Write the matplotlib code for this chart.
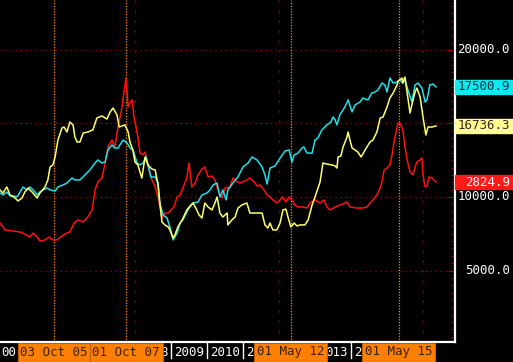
import matplotlib
matplotlib.use("Agg")
import matplotlib.pyplot as plt
from matplotlib.patches import Rectangle
from matplotlib.transforms import blended_transform_factory
from matplotlib.ticker import MultipleLocator

# ---------------- data (decimal year, value in chart units) ----------------
yellow_t = [2004.25, 2004.33, 2004.44, 2004.53, 2004.67, 2004.75, 2004.86, 2004.94, 2005.03, 2005.14,
            2005.28, 2005.36, 2005.50, 2005.58, 2005.64, 2005.72, 2005.78, 2005.86, 2005.97, 2006.03,
            2006.11, 2006.19, 2006.28, 2006.33, 2006.39, 2006.47, 2006.56, 2006.69, 2006.83, 2006.94,
            2007.08, 2007.17, 2007.22, 2007.31, 2007.39, 2007.50, 2007.56, 2007.64, 2007.72, 2007.81,
            2007.86, 2007.94, 2008.00, 2008.08, 2008.19, 2008.28, 2008.36, 2008.47, 2008.56, 2008.64,
            2008.69, 2008.75, 2008.83, 2008.92, 2008.97, 2009.06, 2009.11, 2009.19, 2009.31, 2009.44,
            2009.53, 2009.61, 2009.69, 2009.78, 2009.86, 2009.94, 2010.03, 2010.14, 2010.22, 2010.28,
            2010.36, 2010.44, 2010.56, 2010.58, 2010.69, 2010.78, 2010.86, 2010.97, 2011.11, 2011.19,
            2011.33, 2011.53, 2011.61, 2011.69, 2011.75, 2011.83, 2011.94, 2012.03, 2012.11, 2012.19,
            2012.25, 2012.33, 2012.42, 2012.50, 2012.58, 2012.72, 2012.81, 2012.92, 2013.00, 2013.14,
            2013.22, 2013.33, 2013.47, 2013.56, 2013.61, 2013.64, 2013.72, 2013.78, 2013.89, 2013.92,
            2013.97, 2014.03, 2014.11, 2014.19, 2014.28, 2014.36, 2014.44, 2014.53, 2014.61, 2014.72,
            2014.81, 2014.89, 2015.00, 2015.08, 2015.17, 2015.28, 2015.31, 2015.42, 2015.44, 2015.50,
            2015.56, 2015.64, 2015.69, 2015.78, 2015.83, 2015.92, 2016.00, 2016.08, 2016.14, 2016.25,
            2016.36]
yellow_v = [10480, 10270, 10680, 10140, 9930, 9730, 9930, 10340, 10610, 10340,
            9930, 10270, 10680, 11160, 12040, 12180, 12720, 13880, 14690, 14760,
            14420, 15100, 14900, 14080, 13740, 13740, 14350, 14420, 14560, 15370,
            15510, 15370, 15300, 15780, 16050, 15580, 14760, 14830, 14900, 14420,
            13740, 13200, 12380, 12180, 11290, 12720, 12180, 11900, 11840, 10820,
            9590, 8300, 8100, 7960, 7760, 7210, 7420, 7960, 8440, 9120,
            9390, 9590, 9250, 8780, 8570, 9590, 9320, 9120, 9590, 10000,
            8910, 8640, 8910, 8100, 8440, 8640, 9250, 9460, 9590, 8910,
            8910, 8910, 8100, 7890, 8230, 7760, 7760, 8230, 9120, 9180,
            8640, 7960, 8230, 8030, 8100, 8100, 8440, 9460, 10000, 11020,
            12310, 12240, 12180, 12110, 11970, 12720, 12790, 13400, 14080, 14420,
            13880, 13330, 13200, 13060, 12720, 13060, 13400, 13740, 13880, 14420,
            15370, 15440, 16120, 16730, 17070, 17620, 17890, 18090, 17750, 18160,
            17070, 15710, 16260, 17140, 17410, 16800, 15440, 14220, 14760, 14760,
            14830]

cyan_t = [2004.25, 2004.33, 2004.44, 2004.53, 2004.64, 2004.72, 2004.81, 2004.89, 2005.00, 2005.08,
          2005.17, 2005.28, 2005.36, 2005.44, 2005.56, 2005.64, 2005.78, 2005.86, 2006.00, 2006.11,
          2006.25, 2006.33, 2006.47, 2006.61, 2006.75, 2006.89, 2006.97, 2007.08, 2007.17, 2007.25,
          2007.36, 2007.44, 2007.53, 2007.58, 2007.67, 2007.78, 2007.86, 2007.94, 2008.06, 2008.14,
          2008.22, 2008.31, 2008.36, 2008.44, 2008.56, 2008.64, 2008.69, 2008.78, 2008.89, 2008.97,
          2009.06, 2009.17, 2009.25, 2009.33, 2009.47, 2009.61, 2009.75, 2009.86, 2010.00, 2010.08,
          2010.17, 2010.28, 2010.36, 2010.44, 2010.53, 2010.58, 2010.72, 2010.86, 2011.00, 2011.14,
          2011.25, 2011.39, 2011.53, 2011.61, 2011.67, 2011.75, 2011.89, 2012.03, 2012.17, 2012.28,
          2012.36, 2012.42, 2012.53, 2012.64, 2012.69, 2012.78, 2012.92, 2013.00, 2013.08, 2013.19,
          2013.33, 2013.44, 2013.50, 2013.56, 2013.61, 2013.69, 2013.83, 2013.92, 2014.03, 2014.11,
          2014.25, 2014.33, 2014.47, 2014.58, 2014.67, 2014.75, 2014.86, 2014.94, 2015.00, 2015.08,
          2015.17, 2015.28, 2015.36, 2015.44, 2015.50, 2015.58, 2015.69, 2015.78, 2015.86, 2015.97,
          2016.06, 2016.11, 2016.19, 2016.28, 2016.36]
cyan_v = [10270, 10140, 10340, 10070, 10070, 10000, 10340, 10680, 10480, 10680,
          10480, 10140, 10340, 10480, 10610, 10480, 10410, 10680, 10820, 10950,
          11290, 11160, 11160, 11500, 11840, 12310, 12520, 12310, 12380, 13200,
          13540, 13330, 13330, 13540, 13880, 13670, 13330, 13200, 12310, 12180,
          12310, 12720, 12180, 11360, 11360, 10950, 9590, 8780, 8570, 7960,
          7080, 7550, 8230, 8440, 9120, 9590, 9660, 10140, 10270, 10480,
          10820, 10950, 10000, 10480, 9800, 10480, 10950, 11360, 12040, 12310,
          12720, 12520, 12040, 11500, 10880, 11970, 12110, 12650, 13130, 13200,
          12380, 12860, 12990, 13330, 13400, 12990, 12990, 13880, 14010, 14560,
          14900, 15100, 15440, 15240, 14900, 15580, 16120, 16600, 15780, 16260,
          16460, 16730, 16600, 17070, 17140, 17280, 17750, 17620, 17140, 18090,
          17750, 17820, 17960, 17750, 17960, 17280, 16460, 17620, 17750, 17410,
          16460, 16600, 17620, 17680, 17480]

red_t = [2004.25, 2004.39, 2004.61, 2004.81, 2004.94, 2005.08, 2005.17, 2005.28, 2005.36, 2005.50,
         2005.61, 2005.72, 2005.83, 2005.97, 2006.11, 2006.19, 2006.31, 2006.42, 2006.56, 2006.69,
         2006.81, 2006.89, 2006.97, 2007.08, 2007.17, 2007.25, 2007.36, 2007.44, 2007.53, 2007.64,
         2007.69, 2007.75, 2007.81, 2007.86, 2007.92, 2007.97, 2008.03, 2008.08, 2008.14, 2008.22,
         2008.28, 2008.36, 2008.47, 2008.56, 2008.64, 2008.75, 2008.83, 2008.92, 2009.00, 2009.08,
         2009.17, 2009.25, 2009.33, 2009.44, 2009.50, 2009.58, 2009.67, 2009.75, 2009.86, 2009.94,
         2010.03, 2010.14, 2010.22, 2010.31, 2010.42, 2010.50, 2010.64, 2010.72, 2010.81, 2010.92,
         2011.06, 2011.19, 2011.31, 2011.39, 2011.47, 2011.58, 2011.67, 2011.75, 2011.83, 2011.94,
         2012.03, 2012.11, 2012.19, 2012.28, 2012.36, 2012.44, 2012.53, 2012.67, 2012.78, 2012.86,
         2013.00, 2013.14, 2013.25, 2013.33, 2013.42, 2013.56, 2013.69, 2013.78, 2013.89, 2013.97,
         2014.17, 2014.33, 2014.44, 2014.53, 2014.61, 2014.72, 2014.81, 2014.86, 2014.92, 2015.00,
         2015.08, 2015.14, 2015.19, 2015.25, 2015.31, 2015.36, 2015.44, 2015.50, 2015.56, 2015.64,
         2015.72, 2015.78, 2015.83, 2015.92, 2015.97, 2016.00, 2016.06, 2016.11, 2016.17, 2016.25,
         2016.36]
red_v = [8230, 7760, 7690, 7620, 7480, 7280, 7550, 7280, 7010, 7080,
         7280, 7080, 7080, 7350, 7550, 7620, 8230, 8440, 8300, 8640,
         9120, 10480, 11020, 11290, 12310, 13400, 13880, 13400, 14760, 16120,
         17070, 18090, 16120, 16390, 16600, 15440, 14760, 14080, 12990, 12860,
         13060, 12180, 11160, 10680, 10000, 8570, 8910, 8910, 9120, 9320,
         10000, 10140, 10610, 11290, 12310, 10680, 10950, 11500, 11900, 12040,
         11360, 11430, 11160, 10410, 9930, 10610, 10680, 11290, 11090, 10950,
         11090, 11290, 11020, 10750, 10820, 10480, 10140, 10000, 9800, 9590,
         9800, 10000, 9660, 10000, 9800, 9460, 9320, 9320, 9250, 9590,
         9800, 9590, 9800, 9320, 9120, 9320, 9460, 9520, 9660, 9320,
         9250, 9250, 9320, 9590, 9800, 10140, 10610, 11020, 11840, 11970,
         12180, 12860, 13670, 14420, 15030, 15030, 14560, 13400, 12520, 11700,
         11500, 12040, 12380, 12520, 12650, 11500, 10680, 10750, 11360, 11290,
         11020]

last_labels = ["17500.9", "16736.3", "2824.9"]          # cyan, yellow, red
y_ticks = [5000, 10000, 15000, 20000]
y_tick_labels = ["5000.0", "10000.0", "15000.0", "20000.0"]
grid_years = [2008, 2012, 2016]
event_dates = [2005.75, 2007.75, 2012.33, 2015.33]
event_labels = ["03 Oct 05", "01 Oct 07", "01 May 12", "01 May 15"]
year_starts = [2004, 2005, 2006, 2007, 2008, 2009, 2010, 2011, 2012, 2013, 2014, 2015]

# ---------------- figure ----------------
W, H = 513, 362
fig = plt.figure(figsize=(W / 100, H / 100), dpi=100, facecolor="black")
ax = fig.add_axes([0.0, 20 / H, 455 / W, 342 / H])
ax.set_facecolor("black")
ax.set_xlim(2004.25, 2004.25 + 455 / 36)
ax.set_ylim(140, 23396)
px = 1 / 36  # years per pixel on the x axis

mono = "DejaVu Sans Mono"
fs = 9

# grid
for v in y_ticks:
    ax.axhline(v, color="#b00000", lw=0.9, ls=(0, (1, 3)), zorder=1)
for yr in grid_years:
    ax.axvline(yr, color="#c00000", lw=1.0, ls=(0, (1.2, 6)), zorder=1)
for d in event_dates:
    ax.axvline(d, color="#ff8c00", lw=0.9, ls=(0, (1, 1.2)), zorder=1)

# series
ax.plot(red_t, red_v, color="#ff1010", lw=1.1, zorder=3)
ax.plot(cyan_t, cyan_v, color="#20e0e8", lw=1.1, zorder=4)
ax.plot(yellow_t, yellow_v, color="#ffff70", lw=1.1, zorder=5)

# spines / ticks
for s in ["left", "top"]:
    ax.spines[s].set_visible(False)
for s in ["right", "bottom"]:
    ax.spines[s].set_color("white")
    ax.spines[s].set_linewidth(1.6)
ax.yaxis.tick_right()
ax.set_yticks(y_ticks)
ax.yaxis.set_minor_locator(MultipleLocator(500))
ax.tick_params(axis="y", which="major", direction="in", length=5, color="#b00000", labelright=False)
ax.tick_params(axis="y", which="minor", direction="in", length=3, color="#b00000")
ax.set_xticks([])

# right axis labels (the 15000 label sits under the yellow value box)
tr_r = blended_transform_factory(fig.transFigure, ax.transData)
box_h = 14 * (23396 - 140) / 342
box_specs = [(cyan_v[-1], last_labels[0], "#10e8f0", "#103040"),
             (yellow_v[-1], last_labels[1], "#ffff90", "#402020"),
             (red_v[-1], last_labels[2], "#ff1a1a", "white")]
for v, lab in zip(y_ticks, y_tick_labels):
    hidden = any(abs(v - bv) < box_h for bv, *_ in box_specs)
    if not hidden:
        fig.text(510 / W, v, lab, transform=tr_r, ha="right", va="center", color="white",
                 fontsize=fs, family=mono, zorder=5)
for v, lab, fc, tc in box_specs:
    fig.patches.append(Rectangle((455 / W, v - box_h / 2), 58 / W, box_h, transform=tr_r,
                                 facecolor=fc, edgecolor=fc, zorder=8))
    fig.text(510 / W, v, lab, transform=tr_r, ha="right", va="center", color=tc,
             fontsize=fs, family=mono, zorder=9)

# bottom labels: year labels partly hidden by the orange event boxes
tr_b = blended_transform_factory(ax.transData, fig.transFigure)
ty = 10 / H
box_w = 73 * px
boxes = [(d - box_w / 2, d + box_w / 2) for d in event_dates]
cw = 0.602 * fs * 100 / 72 * px   # monospace advance in years
xmin = ax.get_xlim()[0]
for yr in year_starts:
    fig.lines.append(plt.Line2D([yr, yr], [4 / H, 19 / H], transform=tr_b, color="white", lw=1, zorder=2))
    s = str(yr)
    x0 = yr + 3 * px
    run, run_x = "", None
    pieces = []
    for i, ch in enumerate(s):
        a = x0 + i * cw
        b = a + cw
        covered = any(a < r - 2.5 * px and b > l + 2.5 * px for l, r in boxes) or a < xmin - 1.5 * px
        if covered:
            if run:
                pieces.append((run_x, run))
            run, run_x = "", None
        else:
            if not run:
                run_x = a
            run += ch
    if run:
        pieces.append((run_x, run))
    for xs, txt in pieces:
        fig.text(xs, ty, txt, transform=tr_b, ha="left", va="center", color="white",
                 fontsize=fs, family=mono, zorder=3)
for d, lab in zip(event_dates, event_labels):
    fig.patches.append(Rectangle((d - box_w / 2, 0), box_w, 19 / H, transform=tr_b,
                                 facecolor="#ff8000", edgecolor="#c06000", lw=0.8, zorder=6))
    fig.text(d, ty, lab, transform=tr_b, ha="center", va="center", color="#3a2000",
             fontsize=fs, family=mono, zorder=7)

fig.savefig("out.png", dpi=100, facecolor="black")
